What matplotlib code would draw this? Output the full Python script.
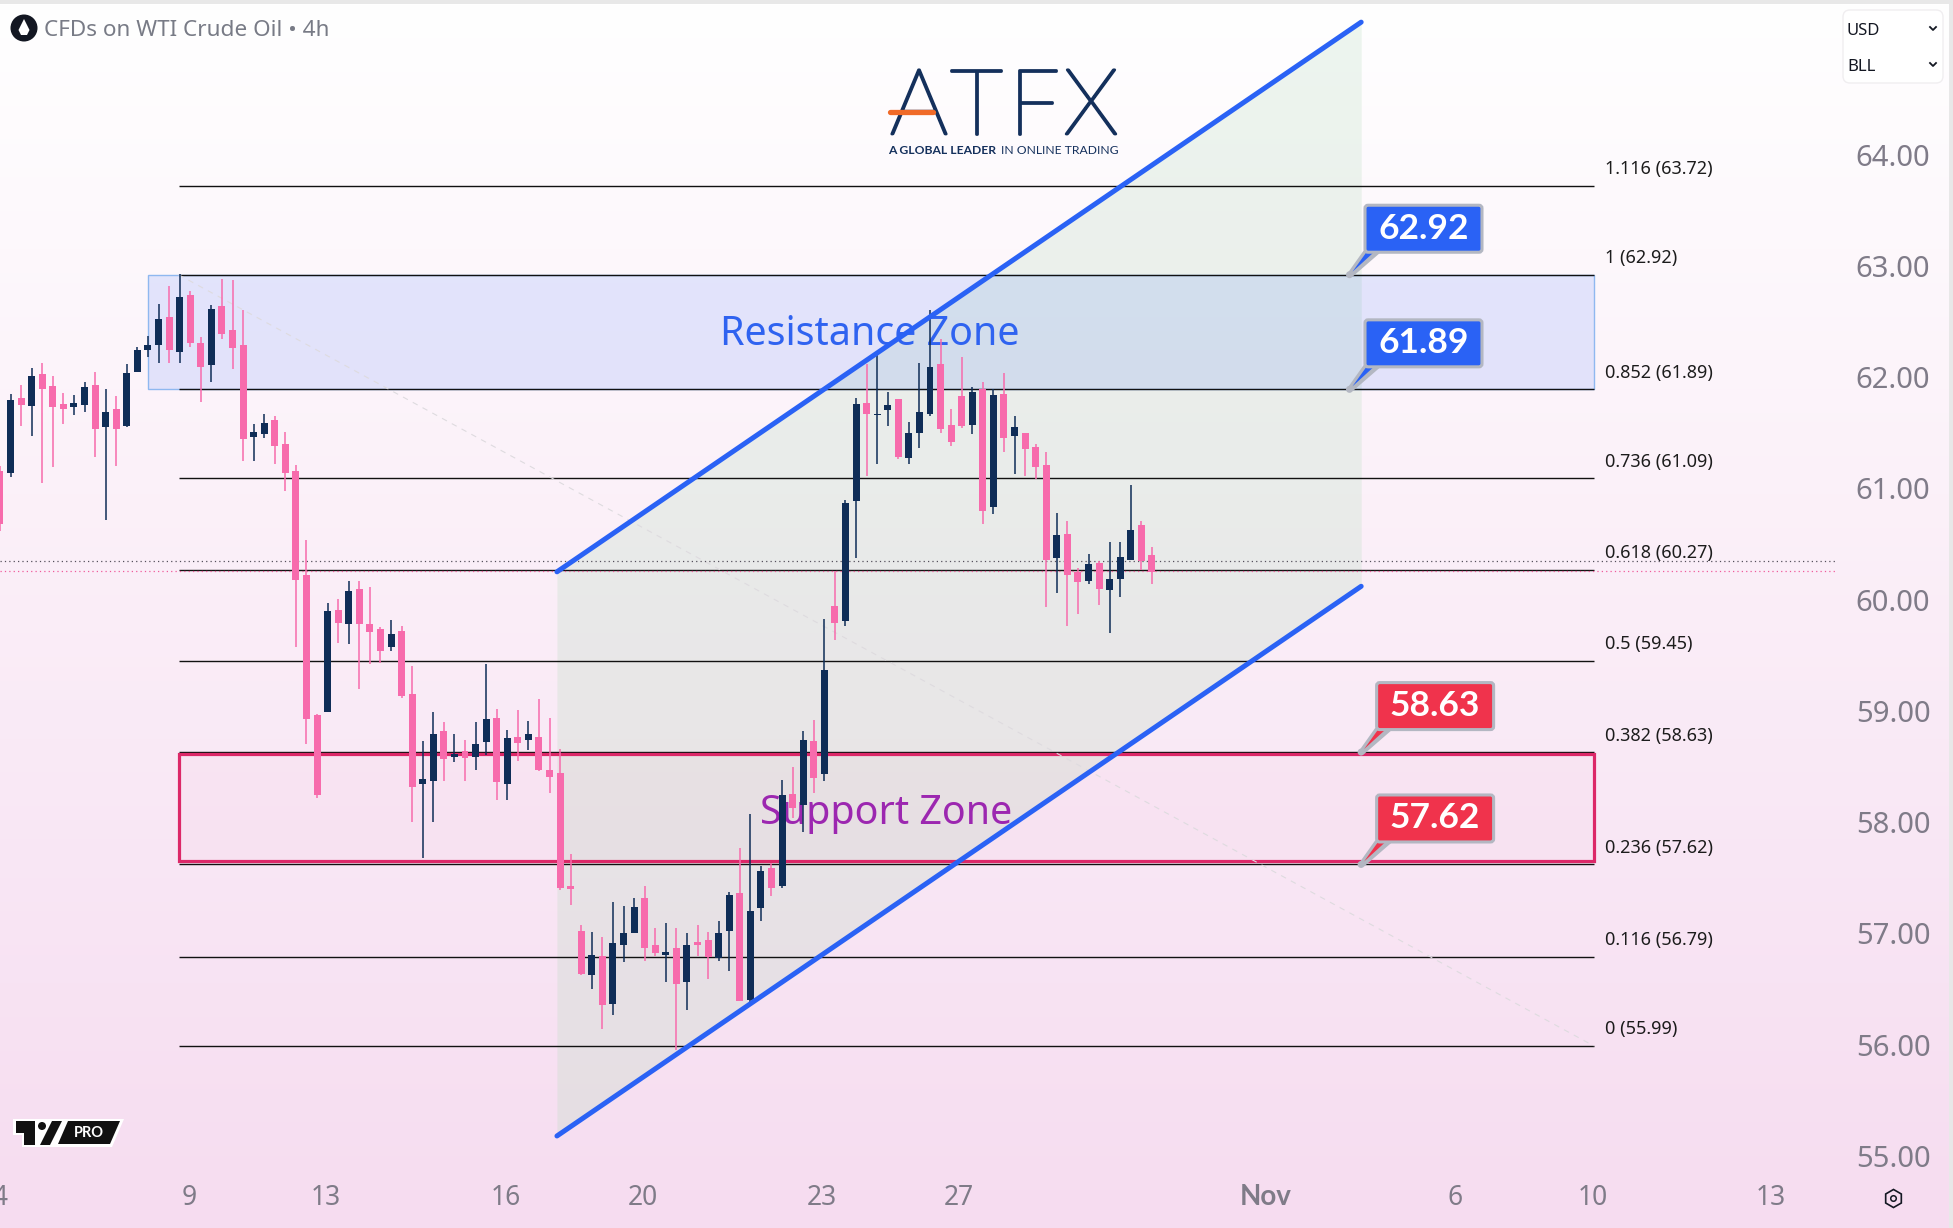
import numpy as np
import matplotlib
matplotlib.use('Agg')
import matplotlib.pyplot as plt
import matplotlib.patheffects as pe
from matplotlib.colors import LinearSegmentedColormap
from matplotlib.patches import FancyBboxPatch, Polygon, Rectangle, Circle
from matplotlib.transforms import Affine2D

plt.rcParams['font.family'] = ['Noto Sans', 'DejaVu Sans']

# candles (4h bars)
candle_high = [61.20, 61.85, 61.93, 62.08, 62.13, 62.01, 61.86, 61.84, 61.96, 62.05,
               61.89, 61.83, 62.12, 62.27, 62.37, 62.66, 62.82, 62.93, 62.77, 62.36,
               62.65, 62.88, 62.87, 62.60, 61.58, 61.67, 61.65, 61.51, 61.21, 60.54,
               58.97, 59.97, 60.01, 60.17, 60.17, 60.11, 59.75, 59.82, 59.76, 59.40,
               58.73, 58.99, 58.90, 58.79, 58.74, 58.90, 59.42, 59.02, 58.83, 59.01,
               58.91, 59.11, 58.94, 58.66, 57.71, 57.08, 57.01, 56.97, 57.28, 57.25,
               57.32, 57.43, 57.05, 57.09, 57.05, 57.00, 57.08, 57.01, 57.11, 57.37,
               57.77, 58.07, 57.61, 57.63, 58.38, 58.50, 58.82, 58.92, 59.83, 60.26,
               60.90, 61.81, 62.12, 62.21, 61.87, 61.80, 61.60, 62.13, 62.60, 62.34,
               61.71, 62.18, 61.91, 61.96, 61.89, 62.04, 61.65, 61.50, 61.40, 61.33,
               60.78, 60.71, 60.28, 60.41, 60.35, 60.52, 60.52, 61.03, 60.71, 60.47]
candle_top = [61.16, 61.79, 61.81, 62.01, 62.03, 61.92, 61.76, 61.77, 61.91, 61.93,
              61.69, 61.71, 62.04, 62.24, 62.29, 62.52, 62.54, 62.72, 62.74, 62.31,
              62.61, 62.64, 62.42, 62.29, 61.51, 61.59, 61.61, 61.40, 61.16, 60.22,
              58.96, 59.90, 59.91, 60.08, 60.10, 59.78, 59.74, 59.69, 59.72, 59.15,
              58.39, 58.79, 58.82, 58.61, 58.64, 58.70, 58.93, 58.94, 58.76, 58.77,
              58.79, 58.77, 58.47, 58.44, 57.43, 57.02, 56.81, 56.80, 56.91, 57.00,
              57.24, 57.32, 56.90, 56.83, 56.87, 56.90, 56.92, 56.94, 57.00, 57.35,
              57.36, 57.20, 57.56, 57.59, 58.24, 58.25, 58.74, 58.73, 59.37, 59.94,
              60.87, 61.76, 61.77, 61.67, 61.75, 61.80, 61.50, 61.69, 62.09, 62.12,
              61.57, 61.83, 61.87, 61.89, 61.84, 61.85, 61.55, 61.50, 61.37, 61.21,
              60.58, 60.59, 60.25, 60.32, 60.33, 60.19, 60.38, 60.63, 60.67, 60.40]
candle_bottom = [60.68, 61.14, 61.75, 61.74, 61.89, 61.73, 61.71, 61.73, 61.75, 61.53,
                 61.55, 61.53, 61.56, 62.05, 62.24, 62.29, 62.24, 62.23, 62.31, 62.09,
                 62.11, 62.39, 62.26, 61.44, 61.46, 61.49, 61.38, 61.14, 60.18, 58.93,
                 58.24, 58.99, 59.79, 59.78, 59.78, 59.71, 59.54, 59.57, 59.13, 58.32,
                 58.34, 58.37, 58.57, 58.59, 58.58, 58.59, 58.72, 58.36, 58.34, 58.71,
                 58.74, 58.47, 58.41, 57.41, 57.40, 56.64, 56.63, 56.36, 56.37, 56.90,
                 57.00, 56.87, 56.82, 56.81, 56.55, 56.56, 56.90, 56.79, 56.78, 57.02,
                 56.39, 56.40, 57.23, 57.41, 57.43, 58.13, 58.15, 58.40, 58.43, 59.79,
                 59.81, 60.89, 61.67, 61.66, 61.70, 61.28, 61.27, 61.50, 61.67, 61.53,
                 61.42, 61.56, 61.57, 60.80, 60.83, 61.45, 61.47, 61.35, 61.19, 60.36,
                 60.37, 60.22, 60.16, 60.17, 60.10, 60.09, 60.19, 60.36, 60.35, 60.25]
candle_low = [60.62, 61.10, 61.56, 61.47, 61.05, 61.19, 61.58, 61.66, 61.69, 61.28,
              60.72, 61.20, 61.55, 62.05, 62.18, 62.13, 62.13, 62.13, 62.27, 61.78,
              61.96, 62.34, 62.07, 61.25, 61.25, 61.45, 61.22, 60.98, 59.57, 58.70,
              58.22, 58.99, 59.61, 59.60, 59.20, 59.42, 59.43, 59.54, 59.12, 58.00,
              57.68, 58.00, 58.37, 58.54, 58.37, 58.47, 58.60, 58.20, 58.20, 58.55,
              58.65, 58.46, 58.26, 57.39, 57.26, 56.63, 56.50, 56.14, 56.27, 56.74,
              57.00, 56.75, 56.80, 56.56, 55.95, 56.31, 56.80, 56.59, 56.75, 56.66,
              56.39, 56.35, 57.11, 57.34, 57.41, 58.04, 57.91, 58.26, 58.37, 59.64,
              59.76, 60.37, 61.11, 61.22, 61.56, 61.26, 61.22, 61.36, 61.65, 61.50,
              61.38, 61.54, 61.49, 60.68, 60.77, 61.33, 61.13, 61.11, 61.08, 59.93,
              60.06, 59.76, 59.87, 60.14, 59.95, 59.70, 60.02, 60.36, 60.27, 60.14]
candle_up = [0, 1, 0, 1, 0, 0, 0, 1, 1, 0,
             1, 0, 1, 1, 1, 1, 0, 1, 0, 0,
             1, 0, 0, 0, 1, 1, 0, 0, 0, 0,
             0, 1, 0, 1, 0, 0, 0, 1, 0, 0,
             1, 1, 0, 1, 0, 1, 1, 0, 1, 0,
             1, 0, 0, 0, 0, 0, 1, 0, 1, 1,
             1, 0, 0, 1, 0, 1, 0, 0, 1, 1,
             0, 1, 1, 0, 1, 0, 1, 0, 1, 0,
             1, 1, 0, 1, 1, 0, 1, 1, 1, 0,
             0, 0, 1, 0, 1, 0, 1, 0, 0, 0,
             1, 0, 0, 1, 0, 1, 1, 1, 0, 0]

fib_ratio = ['1.116', '1', '0.852', '0.736', '0.618', '0.5', '0.382', '0.236', '0.116', '0']
fib_price = [63.72, 62.92, 61.89, 61.09, 60.27, 59.45, 58.63, 57.62, 56.79, 55.99]

price_ticks = [64, 63, 62, 61, 60, 59, 58, 57, 56, 55]
date_pos = [0, 17.9, 30.8, 47.9, 60.8, 77.8, 90.7, 119.8, 137.7, 150.7, 167.6]
date_labels = ['4', '9', '13', '16', '20', '23', '27', 'Nov', '6', '10', '13']

channel_x = [52.7, 128.8]
channel_upper = [60.25, 65.19]
channel_lower = [55.18, 60.12]

FIB_X = [16.9, 150.8]
W, H = 1953, 1228
NAVY = '#0f2d57'
PINK = '#f76bac'
BLUE = '#2a62f5'
RED = '#f0334c'

fig = plt.figure(figsize=(W / 100, H / 100), dpi=100)
ax = fig.add_axes([0, 0, 1, 1])
x_lim = (0.02, 184.8)
y_lim = (54.353, 65.389)

# pixel coordinates for the chart furniture, y pointing down
px = Affine2D().scale(1, -1).translate(0, H)

cmap = LinearSegmentedColormap.from_list('bg', ['#ffffff', '#f6dcf0'])
ax.imshow(np.linspace(0, 1, 256).reshape(-1, 1), cmap=cmap, extent=[*x_lim, *y_lim],
          aspect='auto', zorder=0)
ax.set_xlim(x_lim)
ax.set_ylim(y_lim)

# channel
ax.fill_between(channel_x, channel_lower, channel_upper, color='#bdf1c7', alpha=0.2, lw=0, zorder=1)
ax.fill_between(channel_x, channel_lower, channel_upper, color='#a0a0a0', alpha=0.06, lw=0, zorder=1)

# zones
ax.add_patch(Rectangle((14.05, fib_price[2]), 150.8 - 14.05, fib_price[1] - fib_price[2],
                       fc=(0.16, 0.38, 1, 0.12), ec='#8fb8f0', lw=1, zorder=2))
ax.add_patch(Rectangle((FIB_X[0], 57.65), 150.8 - FIB_X[0], 58.61 - 57.65,
                       fc=(0.88, 0.1, 0.4, 0.02), ec='#dc2868', lw=2.3, zorder=2.6))

# fib levels
ax.hlines(fib_price, FIB_X[0], FIB_X[1], color='#111111', lw=1.0, zorder=2.5)
for ratio, price in zip(fib_ratio, fib_price):
    ax.annotate(f'{ratio} ({price:.2f})', (FIB_X[1], price), xytext=(11, 16.5), textcoords='offset pixels',
                va='center', ha='left', fontsize=13, color='#1c1c1c', zorder=3)

# fib trend line and last price lines
ax.plot([FIB_X[0], FIB_X[1]], [fib_price[1], fib_price[-1]], color='#dedbdf', lw=0.8, ls=(0, (5, 5)), zorder=2.7)
ax.plot([x_lim[0], 173.7], [60.35, 60.35], color='#55505c', lw=0.9, ls=(0, (1, 2.5)), zorder=3)
ax.plot([x_lim[0], 173.7], [60.26, 60.26], color='#f05a9a', lw=0.9, ls=(0, (1, 2.5)), zorder=3)

ax.text(870, 335, 'Resistance Zone', transform=px, color='#2f63f0', fontsize=28.4, ha='center', va='center', zorder=3.2)
ax.text(886, 814, 'Support Zone', transform=px, color='#9c27b0', fontsize=28.4, ha='center', va='center', zorder=3.2)

# candles
bar_x = np.arange(len(candle_high))
up = np.array(candle_up, dtype=bool)
high, low = np.array(candle_high), np.array(candle_low)
top, bottom = np.array(candle_top), np.array(candle_bottom)
for mask, col in ((up, NAVY), (~up, PINK)):
    ax.vlines(bar_x[mask], low[mask], high[mask], color=col, lw=1.1, zorder=4)
    ax.bar(bar_x[mask], top[mask] - bottom[mask], bottom=bottom[mask], width=0.66, color=col, lw=0, zorder=4.1)

# channel edges
ax.plot(channel_x, channel_upper, color=BLUE, lw=3.6, solid_capstyle='round', zorder=5)
ax.plot(channel_x, channel_lower, color=BLUE, lw=3.6, solid_capstyle='round', zorder=5)


def callout(i, price, label, color):
    # box and pointer are laid out in pixels from the anchored price point
    x0, y0 = ax.transData.transform((i, price))
    tr = Affine2D().translate(x0, y0)
    grey = '#b3b7c2'
    ax.add_patch(Polygon([(-3, 0), (14, 24), (33, 24), (3, -2)], closed=True, fc=grey, ec='none', transform=tr, zorder=6))
    ax.add_patch(Polygon([(3, 3), (18, 24), (26, 24)], closed=True, fc=color, ec='none', transform=tr, zorder=6.1))
    ax.add_patch(Circle((0, 0), 3.5, fc=grey, ec='none', transform=tr, zorder=6.2))
    ax.add_patch(FancyBboxPatch((15.5, 22.5), 117, 47, boxstyle='round,pad=0,rounding_size=3', fc=color, ec=grey,
                                lw=2.2, transform=tr, zorder=6.3))
    ax.text(74, 46, label, color='white', fontsize=25.5, family='Lato', fontweight='bold', ha='center', va='center',
            transform=tr, zorder=6.4)


fig.canvas.draw()
callout(127.7, 62.92, '62.92', BLUE)
callout(127.7, 61.89, '61.89', BLUE)
callout(128.8, 58.63, '58.63', RED)
callout(128.8, 57.62, '57.62', RED)

# ATFX logo
logo_stroke = [pe.withStroke(linewidth=2, foreground='#14305c')]
for letter, lx in zip('ATFX', [919, 976, 1034, 1091]):
    ax.text(lx, 134, letter, transform=px, fontsize=66, family='Lato', fontweight='light', color='#14305c',
            ha='center', va='baseline', zorder=7, path_effects=logo_stroke)
ax.plot([890, 933], [112, 112], transform=px, color='#f06a28', lw=3.8, solid_capstyle='round', zorder=7.1)
ax.text(888, 151, 'A GLOBAL LEADER', transform=px, fontsize=8.7, family='Lato', fontweight='bold', color='#14305c',
        ha='left', va='center', zorder=7)
ax.text(1001, 151, 'IN ONLINE TRADING', transform=px, fontsize=8.7, family='Lato', color='#14305c',
        ha='left', va='center', zorder=7)

# header
ax.add_patch(Rectangle((0, 0), W, 3.5, transform=px, fc='#e8e8e8', ec='none', zorder=8))
ax.add_patch(Rectangle((1949, 0), 4, H, transform=px, fc='#e8e8e8', ec='none', zorder=8))
ax.add_patch(Circle((24, 28), 13.5, transform=px, fc='#131722', ec='none', zorder=8))
ax.add_patch(Polygon([(24, 19), (29.5, 30), (27, 35), (21, 35), (18.5, 30)], closed=True, transform=px, fc='white', ec='none', zorder=8.1))
ax.text(44, 31, 'CFDs on WTI Crude Oil \u2022 4h', transform=px, fontsize=16.2, color='#787b86', ha='left', va='center', zorder=8)

# currency and unit box
ax.add_patch(FancyBboxPatch((1843, 10), 100, 73, boxstyle='round,pad=0,rounding_size=7', transform=px,
                            fc='white', ec='#f0eef0', lw=1, zorder=8))
for label, ly in (('USD', 29), ('BLL', 65)):
    ax.text(1847, ly + 2, label, transform=px, fontsize=12, color='#131722', ha='left', va='center', zorder=8.1)
    ax.plot([1930, 1933, 1936], [ly - 2, ly + 1, ly - 2], transform=px, color='#131722', lw=1.3, zorder=8.1)

# TV PRO badge
ax.add_patch(Polygon([(13, 1119), (124, 1119), (112, 1147), (22, 1147), (22, 1135), (13, 1135)], closed=True,
                     transform=px, fc='white', ec='none', zorder=7))
ax.add_patch(Polygon([(16, 1121), (35, 1121), (35, 1145), (24, 1145), (24, 1133), (16, 1133)], closed=True,
                     transform=px, fc='#111111', ec='none', zorder=7.1))
ax.add_patch(Circle((42, 1126), 4, transform=px, fc='#111111', ec='none', zorder=7.1))
ax.add_patch(Polygon([(52, 1121), (62, 1121), (50, 1145), (40, 1145)], closed=True, transform=px, fc='#111111', ec='none', zorder=7.1))
ax.add_patch(Polygon([(68, 1121), (120, 1121), (110, 1144), (58, 1144)], closed=True, transform=px, fc='#111111', ec='none', zorder=7.1))
ax.text(89, 1133, 'PRO', transform=px, color='white', fontsize=10.5, family='Lato', fontweight='bold', ha='center', va='center', zorder=7.2)

# settings icon
ax.plot([1893], [1198], transform=px, marker='h', ms=13, mfc='none', mec='#131722', mew=1.2, zorder=8)
ax.plot([1893], [1198], transform=px, marker='o', ms=4, mfc='none', mec='#131722', mew=1.1, zorder=8)

# axes
for side in ax.spines.values():
    side.set_visible(False)
ax.yaxis.tick_right()
ax.set_yticks(price_ticks, [f'{p:.2f}' for p in price_ticks])
ax.set_xticks(date_pos, date_labels)
ax.tick_params(axis='y', length=0, pad=-70, labelsize=21, labelcolor='#7f7b88')
ax.tick_params(axis='x', length=0, pad=-31.5, labelsize=19, labelcolor='#7f7b88')
for tick in ax.get_xticklabels():
    if tick.get_text() == 'Nov':
        tick.set_fontweight('bold')
        tick.set_family('Lato')
        tick.set_fontsize(20)

fig.savefig('out.png', dpi=100)
plt.close(fig)
